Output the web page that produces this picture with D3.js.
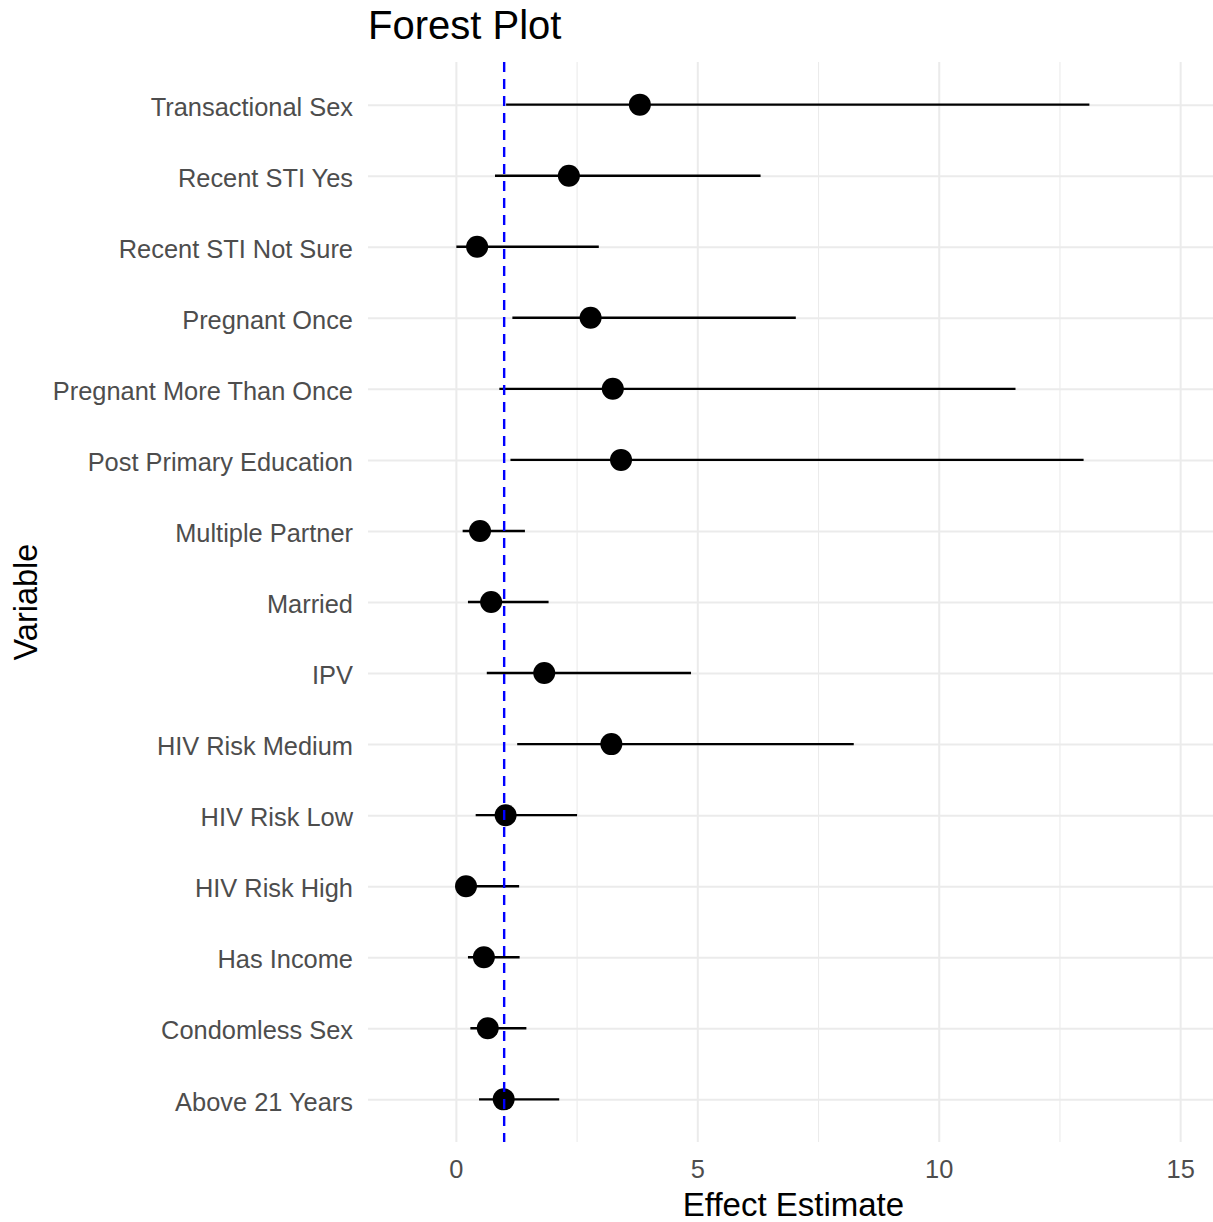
<!DOCTYPE html>
<html>
<head>
<meta charset="utf-8">
<script src="https://cdn.jsdelivr.net/npm/d3@7"></script>
<style>
  body { margin: 0; background: #fff; }
  svg text { font-family: "Liberation Sans", Arial, sans-serif; }
</style>
</head>
<body>
<div id="chart"></div>
<script>
// variables, top to bottom
var variables = ["Transactional Sex", "Recent STI Yes", "Recent STI Not Sure", "Pregnant Once",
  "Pregnant More Than Once", "Post Primary Education", "Multiple Partner", "Married", "IPV",
  "HIV Risk Medium", "HIV Risk Low", "HIV Risk High", "Has Income", "Condomless Sex", "Above 21 Years"];
var estimate = [3.81, 2.34, 0.44, 2.79, 3.25, 3.42, 0.50, 0.73, 1.83, 3.22, 1.03, 0.21, 0.58, 0.66, 0.99];
var lower    = [1.04, 0.81, 0.01, 1.17, 0.90, 1.13, 0.14, 0.25, 0.64, 1.27, 0.41, 0.12, 0.25, 0.30, 0.48];
var upper    = [13.12, 6.31, 2.96, 7.04, 11.59, 13.00, 1.43, 1.92, 4.87, 8.24, 2.51, 1.31, 1.32, 1.46, 2.14];
var xTicks = [0, 5, 10, 15];
var xMinor = [2.5, 7.5, 12.5];
var refValue = 1;

var rows = variables.map(function(v, i) {
  return { name: v, est: estimate[i], lo: lower[i], hi: upper[i] };
});

var W = 1213, H = 1222;
var margin = { top: 62, right: 0, bottom: 80, left: 368 };
var width = W - margin.left - margin.right;
var height = 1142 - margin.top;

var svg = d3.select("#chart").append("svg")
  .attr("width", W)
  .attr("height", H);

var g = svg.append("g")
  .attr("transform", "translate(" + margin.left + "," + margin.top + ")");

var x = d3.scaleLinear().domain([-1.82, 15.68]).range([0, width]);
var y = d3.scalePoint().domain(variables).range([0, height]).padding(0.6);

// grid lines
g.append("g")
  .attr("transform", "translate(0," + height + ")")
  .call(d3.axisBottom(x).tickValues(xMinor).tickSize(height).tickFormat(""))
  .call(function(s) {
    s.select(".domain").remove();
    s.selectAll("line").attr("stroke", "#ebebeb").attr("stroke-width", 1.1).attr("y2", -height);
  });
g.append("g")
  .attr("transform", "translate(0," + height + ")")
  .call(d3.axisBottom(x).tickValues(xTicks).tickSize(height).tickFormat(""))
  .call(function(s) {
    s.select(".domain").remove();
    s.selectAll("line").attr("stroke", "#ebebeb").attr("stroke-width", 2).attr("y2", -height);
  });
g.append("g")
  .call(d3.axisLeft(y).tickSize(-width).tickFormat(""))
  .call(function(s) {
    s.select(".domain").remove();
    s.selectAll("line").attr("stroke", "#ebebeb").attr("stroke-width", 2);
  });

// error bars
g.selectAll(".ci")
  .data(rows)
  .enter().append("line")
  .attr("class", "ci")
  .attr("x1", function(d) { return x(d.lo); })
  .attr("x2", function(d) { return x(d.hi); })
  .attr("y1", function(d) { return y(d.name); })
  .attr("y2", function(d) { return y(d.name); })
  .attr("stroke", "#000")
  .attr("stroke-width", 2.4);

// points
g.selectAll(".pt")
  .data(rows)
  .enter().append("circle")
  .attr("class", "pt")
  .attr("cx", function(d) { return x(d.est); })
  .attr("cy", function(d) { return y(d.name); })
  .attr("r", 11)
  .attr("fill", "#000");

// reference line
g.append("line")
  .attr("x1", x(refValue)).attr("x2", x(refValue))
  .attr("y1", 0).attr("y2", height)
  .attr("stroke", "#0000ff")
  .attr("stroke-width", 2.4)
  .attr("stroke-dasharray", "10,7");

// axes text
g.append("g")
  .call(d3.axisLeft(y).tickSize(0).tickPadding(15))
  .call(function(s) {
    s.select(".domain").remove();
    s.selectAll("text").attr("font-size", 25.4).attr("fill", "#4d4d4d").attr("dy", "0.42em")
      .style("font-family", "'Liberation Sans', Arial, sans-serif");
  });
g.append("g")
  .attr("transform", "translate(0," + height + ")")
  .call(d3.axisBottom(x).tickValues(xTicks).tickSize(0).tickPadding(18))
  .call(function(s) {
    s.select(".domain").remove();
    s.selectAll("text").attr("font-size", 25.4).attr("fill", "#4d4d4d")
      .style("font-family", "'Liberation Sans', Arial, sans-serif");
  });

// titles
svg.append("text")
  .attr("x", margin.left + width / 2 + 3)
  .attr("y", 1216)
  .attr("text-anchor", "middle")
  .attr("font-size", 33)
  .attr("fill", "#000")
  .text("Effect Estimate");

svg.append("text")
  .attr("transform", "translate(37," + (margin.top + height / 2) + ") rotate(-90)")
  .attr("text-anchor", "middle")
  .attr("font-size", 32.5)
  .attr("fill", "#000")
  .text("Variable");

svg.append("text")
  .attr("x", 368)
  .attr("y", 39)
  .attr("font-size", 40)
  .attr("fill", "#000")
  .text("Forest Plot");
</script>
</body>
</html>
